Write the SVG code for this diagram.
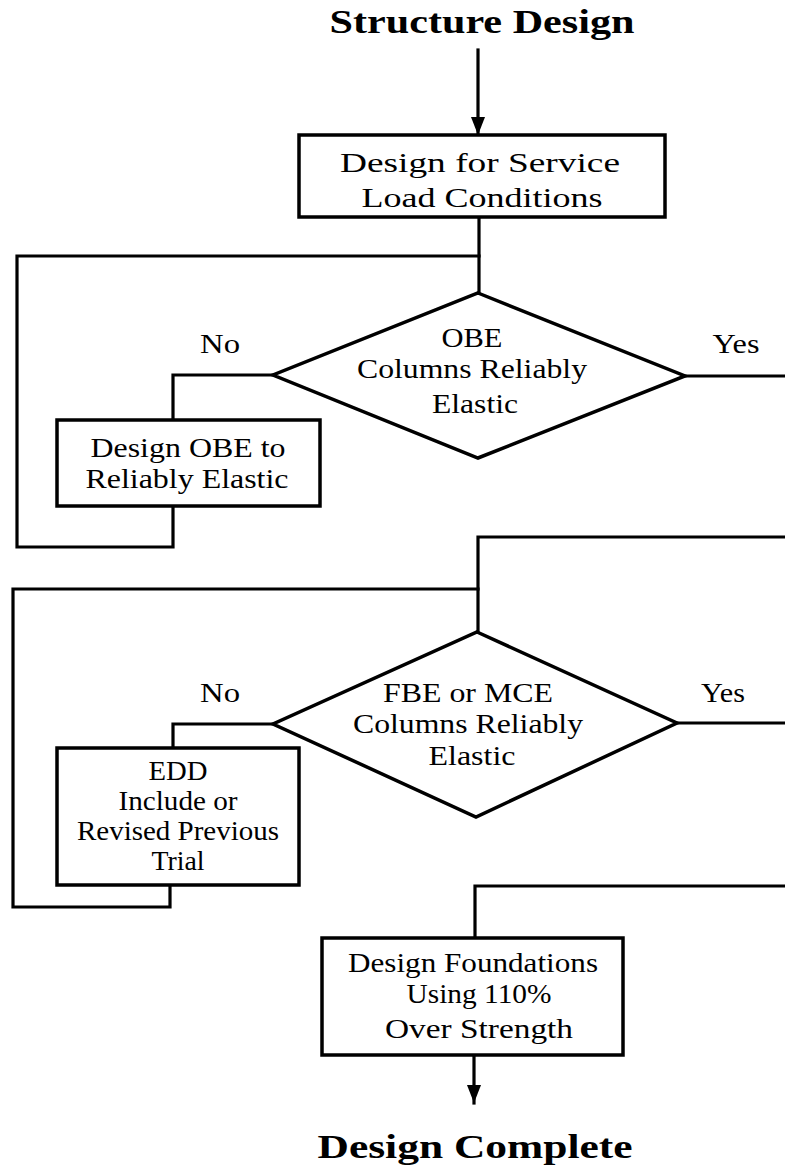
<svg xmlns="http://www.w3.org/2000/svg" width="785" height="1171" viewBox="0 0 785 1171">
<defs>
<style>
.bg{fill:#ffffff}
.box{fill:#ffffff;stroke:#000;stroke-width:3.5}
.dia{fill:#ffffff;stroke:#000;stroke-width:3.5;stroke-linejoin:miter}
.ln{fill:none;stroke:#000;stroke-width:3.2;stroke-linejoin:miter;stroke-linecap:square}
.t{font-family:"Liberation Serif","Times New Roman",serif;font-size:28px;fill:#000;text-anchor:middle}
.tb{font-family:"Liberation Serif","Times New Roman",serif;font-size:34px;font-weight:bold;fill:#000;text-anchor:middle}
</style>
<marker id="arr" viewBox="0 0 18 14" refX="18" refY="7" markerWidth="18" markerHeight="14" markerUnits="userSpaceOnUse" orient="auto">
<path d="M0,0 L18,7 L0,14 Z" fill="#000"/>
</marker>
</defs>
<rect class="bg" x="0" y="0" width="785" height="1171"/>

<g id="connectors">
<line class="ln" x1="478" y1="50" x2="478" y2="135" marker-end="url(#arr)"/>
<polyline class="ln" points="479,217 479,293"/>
<polyline class="ln" points="479,256 17,256 17,547 173,547 173,506"/>
<polyline class="ln" points="273,375 173,375 173,420"/>
<polyline class="ln" points="685,376 785,376"/>
<polyline class="ln" points="785,537 478,537 478,632"/>
<polyline class="ln" points="478,589 13,589 13,907 170,907 170,885"/>
<polyline class="ln" points="273,724 173,724 173,748"/>
<polyline class="ln" points="677,723 785,723"/>
<polyline class="ln" points="785,886 475,886 475,938"/>
<line class="ln" x1="474" y1="1055" x2="474" y2="1103" marker-end="url(#arr)"/>
</g>

<g id="start">
<text class="tb" x="482" y="33" textLength="305" lengthAdjust="spacingAndGlyphs">Structure Design</text>
</g>

<g id="service">
<rect class="box" x="299" y="135" width="366" height="82"/>
<text class="t" x="480" y="172" font-size="30" textLength="280" lengthAdjust="spacingAndGlyphs">Design for Service</text>
<text class="t" x="482" y="207" font-size="30" textLength="241" lengthAdjust="spacingAndGlyphs">Load Conditions</text>
</g>

<g id="obe-check">
<polygon class="dia" points="478,293 685,376 478,458 273,375"/>
<text class="t" x="472" y="347" textLength="61" lengthAdjust="spacingAndGlyphs">OBE</text>
<text class="t" x="472" y="378" textLength="230" lengthAdjust="spacingAndGlyphs">Columns Reliably</text>
<text class="t" x="475" y="413" textLength="86" lengthAdjust="spacingAndGlyphs">Elastic</text>
</g>

<g id="label-no-1"><text class="t" x="220" y="353" textLength="40" lengthAdjust="spacingAndGlyphs">No</text></g>
<g id="label-yes-1"><text class="t" x="736" y="353" textLength="47" lengthAdjust="spacingAndGlyphs">Yes</text></g>

<g id="obe-design">
<rect class="box" x="57" y="420" width="263" height="86"/>
<text class="t" x="188" y="457" textLength="195" lengthAdjust="spacingAndGlyphs">Design OBE to</text>
<text class="t" x="187" y="488" textLength="203" lengthAdjust="spacingAndGlyphs">Reliably Elastic</text>
</g>

<g id="fbe-check">
<polygon class="dia" points="477,632 677,723 476,817 273,724"/>
<text class="t" x="468" y="702" textLength="170" lengthAdjust="spacingAndGlyphs">FBE or MCE</text>
<text class="t" x="468" y="733" textLength="230" lengthAdjust="spacingAndGlyphs">Columns Reliably</text>
<text class="t" x="472" y="765" textLength="87" lengthAdjust="spacingAndGlyphs">Elastic</text>
</g>

<g id="label-no-2"><text class="t" x="220" y="702" textLength="40" lengthAdjust="spacingAndGlyphs">No</text></g>
<g id="label-yes-2"><text class="t" x="723" y="702" textLength="44" lengthAdjust="spacingAndGlyphs">Yes</text></g>

<g id="edd">
<rect class="box" x="57" y="748" width="242" height="137"/>
<text class="t" x="178" y="780" textLength="59" lengthAdjust="spacingAndGlyphs">EDD</text>
<text class="t" x="178" y="810" textLength="119" lengthAdjust="spacingAndGlyphs">Include or</text>
<text class="t" x="178" y="840" textLength="202" lengthAdjust="spacingAndGlyphs">Revised Previous</text>
<text class="t" x="178" y="870" textLength="53" lengthAdjust="spacingAndGlyphs">Trial</text>
</g>

<g id="foundations">
<rect class="box" x="322" y="938" width="301" height="117"/>
<text class="t" x="473" y="972" textLength="250" lengthAdjust="spacingAndGlyphs">Design Foundations</text>
<text class="t" x="479" y="1003" textLength="145" lengthAdjust="spacingAndGlyphs">Using 110%</text>
<text class="t" x="479" y="1038" textLength="188" lengthAdjust="spacingAndGlyphs">Over Strength</text>
</g>

<g id="end">
<text class="tb" x="475" y="1158" textLength="315" lengthAdjust="spacingAndGlyphs">Design Complete</text>
</g>
</svg>
